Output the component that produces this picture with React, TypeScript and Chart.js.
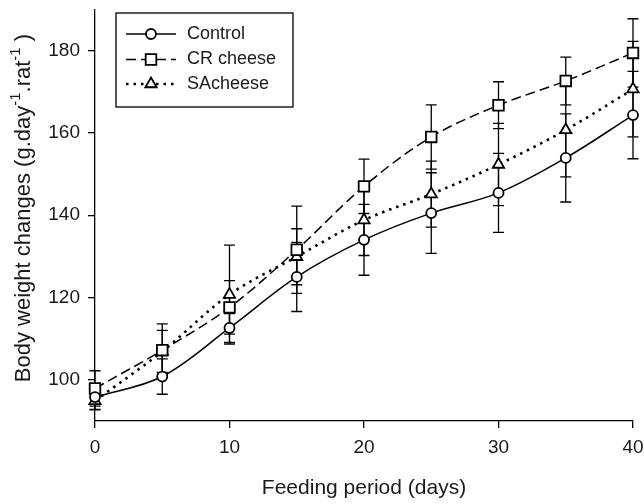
import React, { useEffect, useRef } from 'react';
import { Chart, registerables } from 'chart.js';

Chart.register(...registerables);

// ---- data ----
const days = [0, 5, 10, 15, 20, 25, 30, 35, 40];
const control = [95.8, 100.8, 112.6, 125.0, 134.0, 140.5, 145.4, 153.9, 164.3];
const controlErr = [3.0, 4.3, 3.5, 8.4, 8.6, 9.8, 9.6, 10.7, 10.6];
const crCheese = [97.9, 107.2, 117.6, 131.6, 147.0, 159.0, 166.7, 172.6, 179.4];
const crCheeseErr = [4.3, 6.4, 6.5, 10.6, 6.6, 7.8, 5.7, 5.8, 8.3];
const saCheese = [94.9, 106.9, 120.7, 129.9, 138.8, 145.1, 152.3, 160.7, 170.6];
const saCheeseErr = [2.2, 5.1, 12.0, 6.8, 8.6, 8.0, 10.0, 11.4, 11.6];
const seriesNames = ['Control', 'CR cheese', 'SAcheese'];
const xTicks = [0, 10, 20, 30, 40];
const yTicks = [100, 120, 140, 160, 180];
const xTitle = 'Feeding period (days)';
const yTitleTexts = ['Body weight changes (g.day', '-1', '.rat', '-1', ' )'];
const yTitleSup = [false, true, false, true, false];

const FONT = '"Liberation Sans", Arial, Helvetica, sans-serif';
const TEXT = '#1a1a1a';

const seriesValues = [control, crCheese, saCheese];
const seriesErrs = [controlErr, crCheeseErr, saCheeseErr];
const pointStyles = ['circle', 'rect', 'triangle'];
const pointRadii = [5, 7.5, 6.5];
const dashes: number[][] = [[], [10, 5], [2.5, 5]];
const widths = [1.5, 1.5, 2.6];

function drawMarker(ctx: CanvasRenderingContext2D, style: string, r: number, x: number, y: number) {
  ctx.beginPath();
  if (style === 'circle') {
    ctx.arc(x, y, r, 0, Math.PI * 2);
  } else if (style === 'rect') {
    const s = Math.SQRT1_2 * r;
    ctx.rect(x - s, y - s, 2 * s, 2 * s);
  } else {
    const a = (2 * Math.PI) / 3;
    ctx.moveTo(x, y - r);
    ctx.lineTo(x + Math.sin(a) * r, y - Math.cos(a) * r);
    ctx.lineTo(x - Math.sin(a) * r, y - Math.cos(a) * r);
    ctx.closePath();
  }
  ctx.fillStyle = '#fff';
  ctx.fill();
  ctx.stroke();
}

const errorBarsPlugin = {
  id: 'errorBars',
  beforeDatasetsDraw(chart: any) {
    const { ctx, scales } = chart;
    const xs = scales.x;
    const ys = scales.y;
    ctx.save();
    ctx.strokeStyle = '#000';
    ctx.lineWidth = 1.3;
    seriesValues.forEach((vals, si) => {
      const errs = seriesErrs[si];
      vals.forEach((v, i) => {
        const x = xs.getPixelForValue(days[i]);
        const yt = ys.getPixelForValue(v + errs[i]);
        const yb = ys.getPixelForValue(v - errs[i]);
        ctx.beginPath();
        ctx.moveTo(x, yt);
        ctx.lineTo(x, yb);
        ctx.moveTo(x - 5.5, yt);
        ctx.lineTo(x + 5.5, yt);
        ctx.moveTo(x - 5.5, yb);
        ctx.lineTo(x + 5.5, yb);
        ctx.stroke();
      });
    });
    ctx.restore();
  },
};

const legendPlugin = {
  id: 'boxLegend',
  afterDraw(chart: any) {
    const { ctx } = chart;
    ctx.save();
    ctx.strokeStyle = '#000';
    ctx.lineWidth = 1.3;
    ctx.strokeRect(116, 13, 177, 94);
    const rows = [34, 59.5, 84];
    seriesNames.forEach((name, i) => {
      const y = rows[i];
      ctx.strokeStyle = '#000';
      ctx.lineWidth = widths[i];
      ctx.setLineDash(dashes[i]);
      ctx.beginPath();
      ctx.moveTo(126, y);
      ctx.lineTo(176, y);
      ctx.stroke();
      ctx.setLineDash([]);
      ctx.lineWidth = 1.8;
      drawMarker(ctx, pointStyles[i], pointRadii[i], 151, y);
      ctx.fillStyle = TEXT;
      ctx.font = `18px ${FONT}`;
      ctx.textBaseline = 'middle';
      ctx.textAlign = 'left';
      ctx.fillText(name, 187, y);
    });
    ctx.restore();
  },
};

const yTitlePlugin = {
  id: 'yTitle',
  afterDraw(chart: any) {
    const { ctx } = chart;
    ctx.save();
    ctx.translate(24, 208);
    ctx.rotate(-Math.PI / 2);
    ctx.fillStyle = TEXT;
    ctx.textBaseline = 'middle';
    ctx.textAlign = 'left';
    const fonts = yTitleSup.map((s) => (s ? `15px ${FONT}` : `22px ${FONT}`));
    let total = 0;
    const ws = yTitleTexts.map((t, i) => {
      ctx.font = fonts[i];
      const w = ctx.measureText(t).width;
      total += w;
      return w;
    });
    let x = -total / 2;
    yTitleTexts.forEach((t, i) => {
      ctx.font = fonts[i];
      ctx.fillText(t, x, yTitleSup[i] ? -8 : 0);
      x += ws[i];
    });
    ctx.restore();
  },
};

export default function App() {
  const ref = useRef<HTMLCanvasElement | null>(null);

  useEffect(() => {
    document.body.style.margin = '0';
    const canvas = ref.current;
    if (!canvas) return;
    const datasets = seriesNames.map((name, i) => ({
      label: name,
      data: days.map((d, j) => ({ x: d, y: seriesValues[i][j] })),
      borderColor: '#000',
      borderWidth: widths[i],
      borderDash: dashes[i],
      backgroundColor: '#fff',
      pointStyle: pointStyles[i] as any,
      pointRadius: pointRadii[i],
      pointBorderWidth: 1.8,
      pointBorderColor: '#000',
      pointBackgroundColor: '#fff',
      tension: 0.35,
      fill: false,
      clip: false as any,
    }));

    const chart = new Chart(canvas, {
      type: 'line',
      data: { datasets },
      options: {
        animation: false,
        responsive: false,
        maintainAspectRatio: false,
        layout: { padding: { top: 8, right: 11, left: 0, bottom: 0 } },
        plugins: { legend: { display: false }, tooltip: { enabled: false } },
        scales: {
          x: {
            type: 'linear',
            min: 0,
            max: 40,
            afterBuildTicks: (s: any) => {
              s.ticks = xTicks.map((v) => ({ value: v }));
            },
            afterFit: (s: any) => {
              s.height = 83;
              s.paddingLeft = 0;
              s.paddingRight = 0;
            },
            grid: { drawOnChartArea: false, drawTicks: true, tickLength: 7, color: '#000', lineWidth: 1.3 },
            border: { display: true, color: '#000', width: 1.3 },
            ticks: { font: { size: 19, family: FONT }, color: TEXT, padding: 8, maxRotation: 0, autoSkip: false },
            title: { display: true, text: xTitle, font: { size: 21, family: FONT }, color: TEXT, padding: { top: 0, bottom: 3 } },
          },
          y: {
            type: 'linear',
            min: 90,
            max: 190,
            afterBuildTicks: (s: any) => {
              s.ticks = yTicks.map((v) => ({ value: v }));
            },
            afterFit: (s: any) => {
              s.width = 95;
              s.paddingTop = 0;
              s.paddingBottom = 0;
            },
            grid: { drawOnChartArea: false, drawTicks: true, tickLength: 7, color: '#000', lineWidth: 1.3 },
            border: { display: true, color: '#000', width: 1.3 },
            ticks: { font: { size: 19, family: FONT }, color: TEXT, padding: 8, autoSkip: false },
            title: { display: false },
          },
        },
      },
      plugins: [errorBarsPlugin, legendPlugin, yTitlePlugin],
    });
    return () => chart.destroy();
  }, []);

  return (
    <div style={{ width: 644, height: 504, position: 'relative' }}>
      <canvas ref={ref} width={644} height={504} style={{ display: 'block', width: 644, height: 504 }} />
    </div>
  );
}
